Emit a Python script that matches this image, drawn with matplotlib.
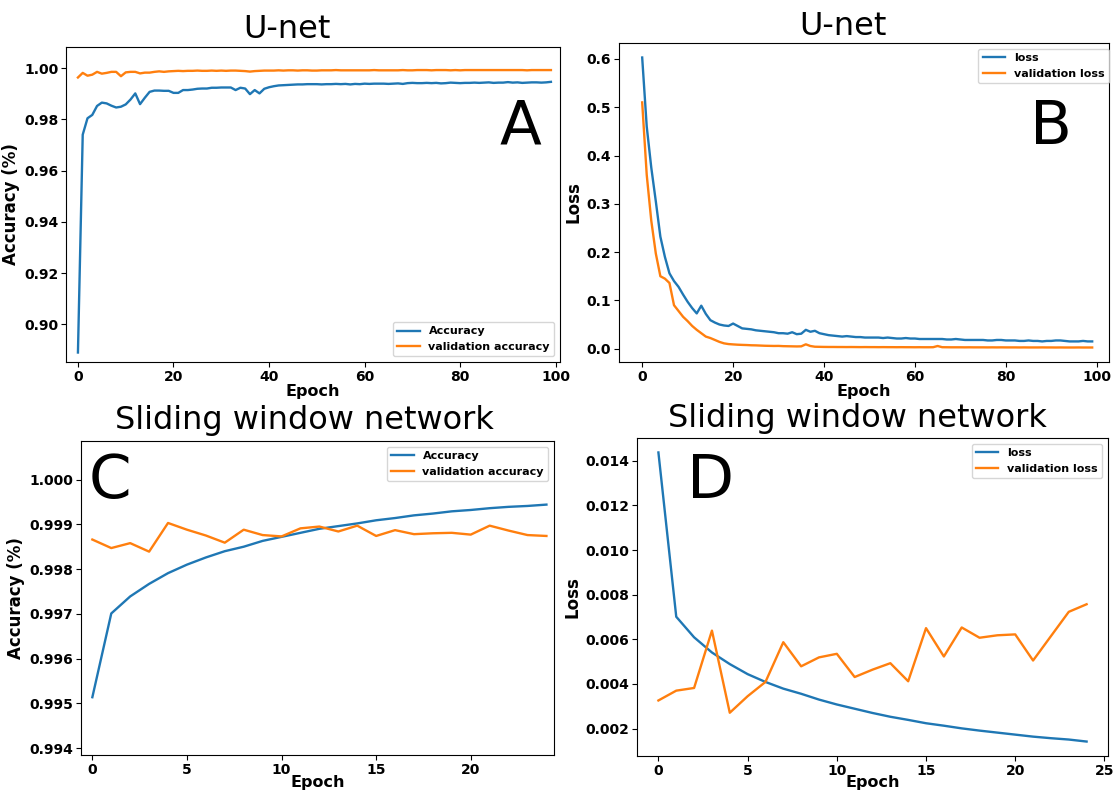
import numpy as np
import matplotlib
matplotlib.use('Agg')
import matplotlib.pyplot as plt

W, H = 1113, 792

# U-net training history (100 epochs)
unet_epochs = list(range(100))
unet_acc = [0.889, 0.974, 0.9804, 0.9817, 0.9852, 0.9865, 0.9862, 0.9853, 0.9846, 0.9849,
            0.9858, 0.9877, 0.9901, 0.9859, 0.9884, 0.9907, 0.9912, 0.9912, 0.9911, 0.9911,
            0.9903, 0.9903, 0.9914, 0.9914, 0.9916, 0.9919, 0.9920, 0.9920, 0.9923, 0.9923,
            0.9924, 0.9924, 0.9924, 0.9914, 0.9923, 0.9920, 0.9898, 0.9914, 0.9901, 0.9919,
            0.9925, 0.9929, 0.9932, 0.9933, 0.9934, 0.9935, 0.9936, 0.9936, 0.9937, 0.9937,
            0.9937, 0.9936, 0.9937, 0.9937, 0.9938, 0.9937, 0.9938, 0.9936, 0.9938, 0.9937,
            0.9939, 0.9938, 0.9939, 0.9939, 0.9939, 0.9938, 0.9939, 0.9940, 0.9938, 0.9941,
            0.9942, 0.9941, 0.9941, 0.9942, 0.9941, 0.9942, 0.9940, 0.9941, 0.9943, 0.9942,
            0.9941, 0.9942, 0.9942, 0.9943, 0.9942, 0.9943, 0.9944, 0.9942, 0.9943, 0.9943,
            0.9945, 0.9943, 0.9944, 0.9942, 0.9943, 0.9944, 0.9944, 0.9943, 0.9944, 0.9946]
unet_val_acc = [0.9963, 0.9981, 0.9970, 0.9974, 0.9985, 0.9978, 0.9981, 0.9985, 0.9985, 0.9968,
                0.9983, 0.9985, 0.9985, 0.9979, 0.9982, 0.9982, 0.9985, 0.9987, 0.9985, 0.9987,
                0.9988, 0.9989, 0.9988, 0.9989, 0.9989, 0.9990, 0.9989, 0.9989, 0.9990, 0.9989,
                0.9990, 0.9989, 0.9990, 0.9990, 0.9989, 0.9988, 0.9986, 0.9988, 0.9989, 0.9990,
                0.9990, 0.9990, 0.9991, 0.9990, 0.9991, 0.9991, 0.9990, 0.9991, 0.9991, 0.9990,
                0.9990, 0.9991, 0.9991, 0.9991, 0.9992, 0.9991, 0.9991, 0.9991, 0.9991, 0.9991,
                0.9991, 0.9991, 0.9992, 0.9991, 0.9991, 0.9991, 0.9991, 0.9991, 0.9992, 0.9991,
                0.9991, 0.9992, 0.9992, 0.9992, 0.9991, 0.9992, 0.9992, 0.9992, 0.9991, 0.9992,
                0.9991, 0.9992, 0.9992, 0.9992, 0.9992, 0.9992, 0.9992, 0.9992, 0.9992, 0.9992,
                0.9992, 0.9992, 0.9992, 0.9992, 0.9991, 0.9992, 0.9992, 0.9992, 0.9992, 0.9992]
unet_loss = [0.603, 0.460, 0.375, 0.305, 0.232, 0.190, 0.156, 0.140, 0.128, 0.112,
             0.097, 0.084, 0.073, 0.089, 0.072, 0.059, 0.054, 0.050, 0.048, 0.047,
             0.052, 0.047, 0.042, 0.041, 0.040, 0.038, 0.037, 0.036, 0.035, 0.034,
             0.032, 0.032, 0.031, 0.034, 0.030, 0.031, 0.039, 0.035, 0.037, 0.032,
             0.030, 0.028, 0.027, 0.026, 0.025, 0.026, 0.025, 0.024, 0.024, 0.023,
             0.023, 0.023, 0.023, 0.022, 0.023, 0.022, 0.021, 0.021, 0.022, 0.021,
             0.021, 0.020, 0.020, 0.020, 0.020, 0.020, 0.020, 0.019, 0.019, 0.020,
             0.019, 0.018, 0.018, 0.018, 0.018, 0.018, 0.017, 0.017, 0.018, 0.018,
             0.017, 0.017, 0.017, 0.016, 0.016, 0.017, 0.016, 0.016, 0.015, 0.016,
             0.016, 0.017, 0.017, 0.016, 0.015, 0.015, 0.015, 0.016, 0.015, 0.015]
unet_val_loss = [0.510, 0.360, 0.265, 0.197, 0.150, 0.145, 0.136, 0.090, 0.078, 0.066,
                 0.057, 0.047, 0.039, 0.032, 0.025, 0.022, 0.018, 0.014, 0.011, 0.0095,
                 0.0088, 0.0082, 0.0078, 0.0075, 0.0070, 0.0068, 0.0064, 0.0060, 0.0058, 0.0056,
                 0.0057, 0.0052, 0.0050, 0.0048, 0.0046, 0.0048, 0.0090, 0.0055, 0.0040, 0.0038,
                 0.0036, 0.0035, 0.0035, 0.0034, 0.0034, 0.0033, 0.0034, 0.0033, 0.0032, 0.0033,
                 0.0032, 0.0032, 0.0031, 0.0032, 0.0031, 0.0031, 0.0030, 0.0031, 0.0030, 0.0030,
                 0.0029, 0.0030, 0.0029, 0.0029, 0.0030, 0.0055, 0.0030, 0.0029, 0.0028, 0.0028,
                 0.0028, 0.0027, 0.0028, 0.0027, 0.0027, 0.0027, 0.0026, 0.0027, 0.0026, 0.0027,
                 0.0026, 0.0026, 0.0026, 0.0025, 0.0026, 0.0025, 0.0025, 0.0025, 0.0026, 0.0025,
                 0.0025, 0.0024, 0.0025, 0.0024, 0.0024, 0.0024, 0.0025, 0.0024, 0.0024, 0.0024]

# Sliding window network training history (25 epochs)
sw_epochs = list(range(25))
sw_acc = [0.99514, 0.99701, 0.99739, 0.99767, 0.99791, 0.99810, 0.99826, 0.99840, 0.99850, 0.99863,
          0.99872, 0.99881, 0.99890, 0.99896, 0.99902, 0.99909, 0.99914, 0.99920, 0.99924, 0.99929,
          0.99932, 0.99936, 0.99939, 0.99941, 0.99944]
sw_val_acc = [0.99866, 0.99847, 0.99858, 0.99839, 0.99903, 0.99888, 0.99875, 0.99859, 0.99888, 0.99876,
              0.99873, 0.99891, 0.99895, 0.99884, 0.99897, 0.99874, 0.99887, 0.99878, 0.99880, 0.99881,
              0.99877, 0.99897, 0.99886, 0.99876, 0.99874]
sw_loss = [0.01437, 0.00701, 0.00609, 0.00541, 0.00489, 0.00444, 0.00409, 0.00379, 0.00356, 0.00330,
           0.00308, 0.00289, 0.00270, 0.00253, 0.00239, 0.00224, 0.00213, 0.00201, 0.00191, 0.00182,
           0.00173, 0.00164, 0.00157, 0.00151, 0.00142]
sw_val_loss = [0.00326, 0.00370, 0.00382, 0.00639, 0.00271, 0.00345, 0.00409, 0.00587, 0.00479, 0.00519,
               0.00535, 0.00431, 0.00464, 0.00493, 0.00412, 0.00650, 0.00523, 0.00653, 0.00607, 0.00618,
               0.00622, 0.00505, 0.00614, 0.00723, 0.00757]

plt.rcParams['font.family'] = 'DejaVu Sans'
plt.rcParams['font.weight'] = 'bold'
plt.rcParams['axes.labelweight'] = 'bold'


def px_axes(fig, left, top, right, bottom):
    # axes box given in pixel coordinates (origin top-left)
    return fig.add_axes([left / W, 1 - bottom / H, (right - left) / W, (bottom - top) / H])


def panel(ax, x, y1, y2, labels, ylabel, loc, xlim=None, ylim=None, ticksize=10, bbox=None, xpad=0):
    ax.plot(x, y1, color='tab:blue', linewidth=1.7, label=labels[0])
    ax.plot(x, y2, color='tab:orange', linewidth=1.7, label=labels[1])
    if xlim is not None:
        ax.set_xlim(xlim)
    if ylim is not None:
        ax.set_ylim(ylim)
    ax.ticklabel_format(axis='y', useOffset=False)
    ax.tick_params(labelsize=ticksize, pad=2)
    ax.set_xlabel('Epoch', fontsize=11.5, labelpad=xpad)
    ax.set_ylabel(ylabel, fontsize=12, labelpad=3)
    if bbox is not None:
        ax.legend(loc=loc, fontsize=8, bbox_to_anchor=bbox)
    else:
        ax.legend(loc=loc, fontsize=8)


fig = plt.figure(figsize=(W / 100, H / 100), dpi=100)

axA = px_axes(fig, 66, 47, 560, 362)
panel(axA, unet_epochs, unet_acc, unet_val_acc, ['Accuracy', 'validation accuracy'],
      'Accuracy (%)', 'lower right', xlim=(-2.5, 100.9), ylim=(0.8853, 1.0082))

axB = px_axes(fig, 619, 43, 1109, 362)
panel(axB, unet_epochs, unet_loss, unet_val_loss, ['loss', 'validation loss'],
      'Loss', 'upper right', xlim=(-5.1, 102.7), bbox=(1.011, 1.0))

axC = px_axes(fig, 81, 441, 554, 755)
panel(axC, sw_epochs, sw_acc, sw_val_acc, ['Accuracy', 'validation accuracy'],
      'Accuracy (%)', 'upper right', xlim=(-0.6, 24.4), ylim=(0.99385, 1.00086), xpad=-1)

axD = px_axes(fig, 637, 438, 1108, 756)
panel(axD, sw_epochs, sw_loss, sw_val_loss, ['loss', 'validation loss'],
      'Loss', 'upper right', xpad=-2)

# titles and panel letters
def fig_text(x, y, s, size, ha='center'):
    fig.text(x / W, 1 - y / H, s, fontsize=size, fontweight='normal', ha=ha, va='baseline')

fig_text(287, 38, 'U-net', 23)
fig_text(843, 35, 'U-net', 23)
fig_text(304, 429, 'Sliding window network', 23)
fig_text(857, 427, 'Sliding window network', 23)

fig_text(500, 144, 'A', 44, ha='left')
fig_text(1030, 144, 'B', 44, ha='left')
fig_text(89, 498, 'C', 44, ha='left')
fig_text(687, 498, 'D', 44, ha='left')

plt.savefig('out.png', dpi=100)
